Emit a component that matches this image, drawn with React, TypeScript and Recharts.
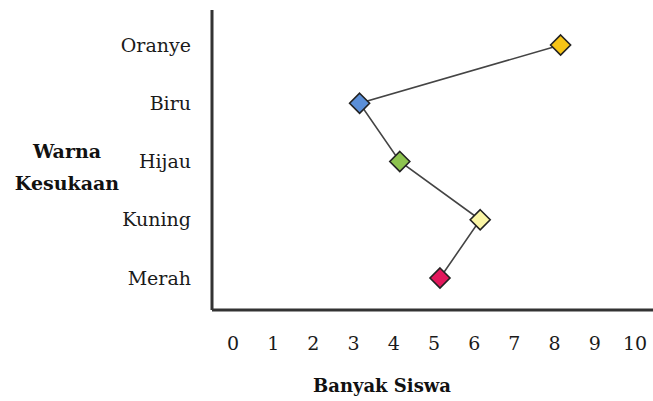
import React from "react";
import { LineChart, Line, XAxis, YAxis, Label } from "recharts";

const categories = ["Oranye", "Biru", "Hijau", "Kuning", "Merah"];
const siswa = [8, 3, 4, 6, 5];
const xTicks = [0, 1, 2, 3, 4, 5, 6, 7, 8, 9, 10];

const COLORS = ["#f6c417", "#5b8fd8", "#8dc34f", "#fbf6a6", "#e2185c"];
const FONT = "DejaVu Serif";

const data = categories.map((name, i) => ({ name, value: siswa[i] }));

const Diamond = (props: any) => {
  const { cx, cy, index } = props;
  if (cx == null || cy == null) return null;
  const r = 10;
  return (
    <path
      key={`d-${index}`}
      d={`M${cx},${cy - r} L${cx + r},${cy} L${cx},${cy + r} L${cx - r},${cy} Z`}
      fill={COLORS[index % COLORS.length]}
      stroke="#222"
      strokeWidth={1.6}
    />
  );
};

export default function App() {
  return (
    <div style={{ position: "absolute", left: 0, top: 0, background: "#fff" }}>
      <LineChart
        width={653}
        height={401}
        data={data}
        layout="vertical"
        margin={{ top: 10, right: 0, bottom: 0, left: 0 }}
      >
        <XAxis
          type="number"
          domain={[0, 10]}
          ticks={xTicks}
          interval={0}
          padding={{ left: 27, right: 12 }}
          height={91}
          tickLine={false}
          tickSize={27}
          tickMargin={0}
          axisLine={{ stroke: "#333", strokeWidth: 3 }}
          tick={{ fontSize: 19, fill: "#1a1a1a", fontFamily: FONT, dx: -6 }}
        >
          <Label
            content={(p: any) => {
              const vb = p.viewBox || {};
              return (
                <text
                  x={vb.x + 170}
                  y={392}
                  textAnchor="middle"
                  fontFamily={FONT}
                  fontWeight="bold"
                  fontSize={18}
                  fill="#111"
                >
                  Banyak Siswa
                </text>
              );
            }}
          />
        </XAxis>
        <YAxis
          type="category"
          dataKey="name"
          width={212}
          padding={{ top: 35, bottom: 32 }}
          tickLine={false}
          tickSize={21}
          tickMargin={0}
          axisLine={{ stroke: "#333", strokeWidth: 3 }}
          tick={{ fontSize: 19, fill: "#1a1a1a", fontFamily: FONT }}
        >
          <Label
            content={() => (
              <text
                textAnchor="middle"
                fontFamily={FONT}
                fontWeight="bold"
                fontSize={19}
                fill="#111"
              >
                <tspan x={67} y={158}>Warna</tspan>
                <tspan x={67} y={190}>Kesukaan</tspan>
              </text>
            )}
          />
        </YAxis>
        <Line
          dataKey="value"
          stroke="#444"
          strokeWidth={1.6}
          dot={<Diamond />}
          activeDot={false}
          isAnimationActive={false}
        />
      </LineChart>
    </div>
  );
}
